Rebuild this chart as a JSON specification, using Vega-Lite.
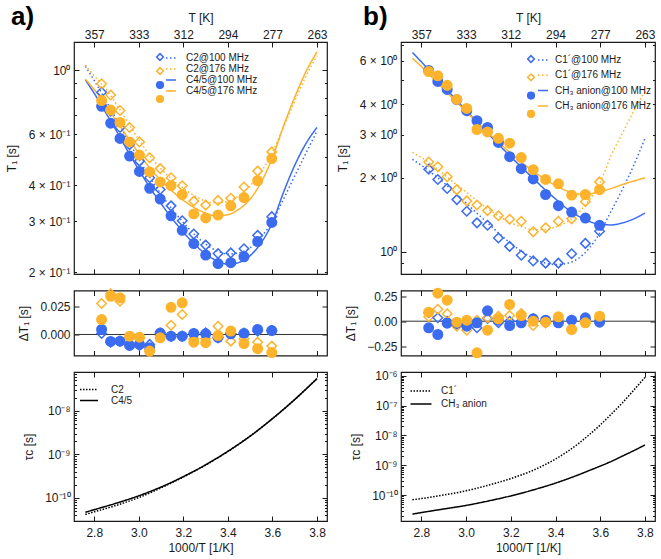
{
  "$schema": "https://vega.github.io/schema/vega-lite/v6.json",
  "padding": {"left": 4, "top": 3, "right": 2, "bottom": 1},
  "config": {
    "font": "Liberation Sans",
    "view": {"stroke": "#1a1a1a", "strokeWidth": 1.2},
    "axis": {"domain": false, "grid": false, "labelFont": "Liberation Sans", "titleFont": "Liberation Sans", "labelFontSize": 12, "titleFontSize": 12, "titleFontWeight": "normal", "labelColor": "#1a1a1a", "titleColor": "#1a1a1a", "tickColor": "#1a1a1a", "tickWidth": 1, "labelOverlap": false, "labelFlush": false},
    "legend": {"labelFont": "Liberation Sans", "labelFontSize": 10, "labelColor": "#1a1a1a", "padding": 0},
    "title": {"font": "Liberation Sans", "color": "#000"}
  },
  "datasets": {
    "ptsA": [
      {"x": 2.8329, "a": 0.838, "b": 0.896, "c": 0.749, "d": 0.784},
      {"x": 2.8736, "a": 0.720, "b": 0.820, "c": 0.655, "d": 0.727},
      {"x": 2.9155, "a": 0.633, "b": 0.724, "c": 0.580, "d": 0.659},
      {"x": 2.9586, "a": 0.552, "b": 0.633, "c": 0.504, "d": 0.564},
      {"x": 3.0030, "a": 0.484, "b": 0.564, "c": 0.446, "d": 0.508},
      {"x": 3.0488, "a": 0.424, "b": 0.497, "c": 0.390, "d": 0.444},
      {"x": 3.0960, "a": 0.386, "b": 0.456, "c": 0.358, "d": 0.410},
      {"x": 3.1447, "a": 0.339, "b": 0.424, "c": 0.313, "d": 0.398},
      {"x": 3.1949, "a": 0.301, "b": 0.398, "c": 0.279, "d": 0.371},
      {"x": 3.2468, "a": 0.271, "b": 0.352, "c": 0.251, "d": 0.318},
      {"x": 3.3003, "a": 0.248, "b": 0.341, "c": 0.229, "d": 0.308},
      {"x": 3.3557, "a": 0.232, "b": 0.354, "c": 0.214, "d": 0.315},
      {"x": 3.4130, "a": 0.233, "b": 0.360, "c": 0.2156, "d": 0.339},
      {"x": 3.4722, "a": 0.241, "b": 0.394, "c": 0.226, "d": 0.362},
      {"x": 3.5336, "a": 0.268, "b": 0.447, "c": 0.255, "d": 0.414},
      {"x": 3.5971, "a": 0.311, "b": 0.521, "c": 0.297, "d": 0.494}
    ],
    "ptsB": [
      {"x": 2.8329, "a": 2.17, "b": 2.32, "c": 5.49, "d": 5.43},
      {"x": 2.8736, "a": 1.97, "b": 2.22, "c": 4.95, "d": 5.22},
      {"x": 2.9155, "a": 1.81, "b": 2.02, "c": 4.59, "d": 4.77},
      {"x": 2.9586, "a": 1.63, "b": 1.79, "c": 4.17, "d": 4.18},
      {"x": 3.0030, "a": 1.46, "b": 1.61, "c": 3.76, "d": 3.84},
      {"x": 3.0488, "a": 1.31, "b": 1.55, "c": 3.42, "d": 3.15},
      {"x": 3.0960, "a": 1.28, "b": 1.47, "c": 3.21, "d": 3.08},
      {"x": 3.1447, "a": 1.136, "b": 1.40, "c": 2.79, "d": 2.90},
      {"x": 3.1949, "a": 1.05, "b": 1.355, "c": 2.44, "d": 2.77},
      {"x": 3.2468, "a": 0.966, "b": 1.33, "c": 2.18, "d": 2.42},
      {"x": 3.3003, "a": 0.916, "b": 1.204, "c": 1.98, "d": 2.16},
      {"x": 3.3557, "a": 0.897, "b": 1.25, "c": 1.71, "d": 1.97},
      {"x": 3.4130, "a": 0.897, "b": 1.33, "c": 1.54, "d": 1.89},
      {"x": 3.4722, "a": 0.980, "b": 1.36, "c": 1.45, "d": 1.70},
      {"x": 3.5336, "a": 1.08, "b": 1.60, "c": 1.37, "d": 1.71},
      {"x": 3.5971, "a": 1.21, "b": 1.925, "c": 1.28, "d": 1.79}
    ],
    "fitA": [
      {"x": 2.76, "C2@100 MHz": 1.03, "C2@176 MHz": 1.04, "C4/5@100 MHz": 0.925, "C4/5@176 MHz": 0.93},
      {"x": 2.80, "C2@100 MHz": 0.92, "C2@176 MHz": 0.955, "C4/5@100 MHz": 0.83, "C4/5@176 MHz": 0.855},
      {"x": 2.85, "C2@100 MHz": 0.79, "C2@176 MHz": 0.865, "C4/5@100 MHz": 0.715, "C4/5@176 MHz": 0.76},
      {"x": 2.90, "C2@100 MHz": 0.675, "C2@176 MHz": 0.76, "C4/5@100 MHz": 0.615, "C4/5@176 MHz": 0.665},
      {"x": 2.95, "C2@100 MHz": 0.575, "C2@176 MHz": 0.66, "C4/5@100 MHz": 0.525, "C4/5@176 MHz": 0.585},
      {"x": 3.00, "C2@100 MHz": 0.492, "C2@176 MHz": 0.575, "C4/5@100 MHz": 0.452, "C4/5@176 MHz": 0.515},
      {"x": 3.05, "C2@100 MHz": 0.425, "C2@176 MHz": 0.505, "C4/5@100 MHz": 0.392, "C4/5@176 MHz": 0.458},
      {"x": 3.10, "C2@100 MHz": 0.372, "C2@176 MHz": 0.455, "C4/5@100 MHz": 0.345, "C4/5@176 MHz": 0.415},
      {"x": 3.15, "C2@100 MHz": 0.330, "C2@176 MHz": 0.418, "C4/5@100 MHz": 0.306, "C4/5@176 MHz": 0.381},
      {"x": 3.20, "C2@100 MHz": 0.297, "C2@176 MHz": 0.390, "C4/5@100 MHz": 0.275, "C4/5@176 MHz": 0.354},
      {"x": 3.25, "C2@100 MHz": 0.270, "C2@176 MHz": 0.367, "C4/5@100 MHz": 0.250, "C4/5@176 MHz": 0.334},
      {"x": 3.30, "C2@100 MHz": 0.250, "C2@176 MHz": 0.352, "C4/5@100 MHz": 0.231, "C4/5@176 MHz": 0.320},
      {"x": 3.35, "C2@100 MHz": 0.237, "C2@176 MHz": 0.347, "C4/5@100 MHz": 0.219, "C4/5@176 MHz": 0.313},
      {"x": 3.40, "C2@100 MHz": 0.231, "C2@176 MHz": 0.352, "C4/5@100 MHz": 0.213, "C4/5@176 MHz": 0.316},
      {"x": 3.45, "C2@100 MHz": 0.233, "C2@176 MHz": 0.368, "C4/5@100 MHz": 0.216, "C4/5@176 MHz": 0.330},
      {"x": 3.50, "C2@100 MHz": 0.243, "C2@176 MHz": 0.398, "C4/5@100 MHz": 0.228, "C4/5@176 MHz": 0.358},
      {"x": 3.55, "C2@100 MHz": 0.265, "C2@176 MHz": 0.445, "C4/5@100 MHz": 0.253, "C4/5@176 MHz": 0.410},
      {"x": 3.60, "C2@100 MHz": 0.300, "C2@176 MHz": 0.520, "C4/5@100 MHz": 0.297, "C4/5@176 MHz": 0.498},
      {"x": 3.65, "C2@100 MHz": 0.358, "C2@176 MHz": 0.635, "C4/5@100 MHz": 0.378, "C4/5@176 MHz": 0.640},
      {"x": 3.70, "C2@100 MHz": 0.430, "C2@176 MHz": 0.780, "C4/5@100 MHz": 0.468, "C4/5@176 MHz": 0.805},
      {"x": 3.75, "C2@100 MHz": 0.515, "C2@176 MHz": 0.950, "C4/5@100 MHz": 0.556, "C4/5@176 MHz": 0.985},
      {"x": 3.80, "C2@100 MHz": 0.615, "C2@176 MHz": 1.120, "C4/5@100 MHz": 0.633, "C4/5@176 MHz": 1.155}
    ],
    "fitB": [
      {"x": 2.76, "C1´@100 MHz": 2.38, "C1´@176 MHz": 2.54, "CH₃ anion@100 MHz": 6.5, "CH₃ anion@176 MHz": 6.15},
      {"x": 2.80, "C1´@100 MHz": 2.25, "C1´@176 MHz": 2.42, "CH₃ anion@100 MHz": 5.95, "CH₃ anion@176 MHz": 5.7},
      {"x": 2.85, "C1´@100 MHz": 2.08, "C1´@176 MHz": 2.25, "CH₃ anion@100 MHz": 5.3, "CH₃ anion@176 MHz": 5.12},
      {"x": 2.90, "C1´@100 MHz": 1.91, "C1´@176 MHz": 2.07, "CH₃ anion@100 MHz": 4.72, "CH₃ anion@176 MHz": 4.6},
      {"x": 2.95, "C1´@100 MHz": 1.74, "C1´@176 MHz": 1.90, "CH₃ anion@100 MHz": 4.22, "CH₃ anion@176 MHz": 4.14},
      {"x": 3.00, "C1´@100 MHz": 1.58, "C1´@176 MHz": 1.75, "CH₃ anion@100 MHz": 3.77, "CH₃ anion@176 MHz": 3.73},
      {"x": 3.05, "C1´@100 MHz": 1.43, "C1´@176 MHz": 1.61, "CH₃ anion@100 MHz": 3.37, "CH₃ anion@176 MHz": 3.37},
      {"x": 3.10, "C1´@100 MHz": 1.30, "C1´@176 MHz": 1.49, "CH₃ anion@100 MHz": 3.02, "CH₃ anion@176 MHz": 3.05},
      {"x": 3.15, "C1´@100 MHz": 1.18, "C1´@176 MHz": 1.39, "CH₃ anion@100 MHz": 2.71, "CH₃ anion@176 MHz": 2.77},
      {"x": 3.20, "C1´@100 MHz": 1.08, "C1´@176 MHz": 1.31, "CH₃ anion@100 MHz": 2.44, "CH₃ anion@176 MHz": 2.52},
      {"x": 3.25, "C1´@100 MHz": 1.00, "C1´@176 MHz": 1.26, "CH₃ anion@100 MHz": 2.20, "CH₃ anion@176 MHz": 2.31},
      {"x": 3.30, "C1´@100 MHz": 0.94, "C1´@176 MHz": 1.23, "CH₃ anion@100 MHz": 1.99, "CH₃ anion@176 MHz": 2.13},
      {"x": 3.35, "C1´@100 MHz": 0.90, "C1´@176 MHz": 1.23, "CH₃ anion@100 MHz": 1.80, "CH₃ anion@176 MHz": 1.98},
      {"x": 3.40, "C1´@100 MHz": 0.885, "C1´@176 MHz": 1.26, "CH₃ anion@100 MHz": 1.64, "CH₃ anion@176 MHz": 1.86},
      {"x": 3.45, "C1´@100 MHz": 0.895, "C1´@176 MHz": 1.32, "CH₃ anion@100 MHz": 1.50, "CH₃ anion@176 MHz": 1.77},
      {"x": 3.50, "C1´@100 MHz": 0.935, "C1´@176 MHz": 1.43, "CH₃ anion@100 MHz": 1.40, "CH₃ anion@176 MHz": 1.72},
      {"x": 3.55, "C1´@100 MHz": 1.03, "C1´@176 MHz": 1.62, "CH₃ anion@100 MHz": 1.33, "CH₃ anion@176 MHz": 1.72},
      {"x": 3.60, "C1´@100 MHz": 1.20, "C1´@176 MHz": 1.92, "CH₃ anion@100 MHz": 1.29, "CH₃ anion@176 MHz": 1.76},
      {"x": 3.65, "C1´@100 MHz": 1.47, "C1´@176 MHz": 2.48, "CH₃ anion@100 MHz": 1.285, "CH₃ anion@176 MHz": 1.81},
      {"x": 3.70, "C1´@100 MHz": 1.80, "C1´@176 MHz": 3.05, "CH₃ anion@100 MHz": 1.31, "CH₃ anion@176 MHz": 1.88},
      {"x": 3.75, "C1´@100 MHz": 2.25, "C1´@176 MHz": 3.75, "CH₃ anion@100 MHz": 1.36, "CH₃ anion@176 MHz": 1.94},
      {"x": 3.80, "C1´@100 MHz": 2.90, "C1´@176 MHz": 4.50, "CH₃ anion@100 MHz": 1.437, "CH₃ anion@176 MHz": 2.00}
    ],
    "resA": [
      {"x": 2.8329, "a": 0.0009, "b": 0.0274, "c": 0.0044, "d": 0.0132},
      {"x": 2.8736, "a": -0.0068, "b": 0.0360, "c": -0.0062, "d": 0.0338},
      {"x": 2.9155, "a": -0.0059, "b": 0.0294, "c": -0.0059, "d": 0.0324},
      {"x": 2.9586, "a": -0.0092, "b": -0.0030, "c": -0.0097, "d": -0.0015},
      {"x": 3.0030, "a": -0.0097, "b": -0.0035, "c": -0.0088, "d": -0.0024},
      {"x": 3.0488, "a": -0.0088, "b": -0.0150, "c": -0.0118, "d": -0.0147},
      {"x": 3.0960, "a": 0.0012, "b": -0.0010, "c": 0.0012, "d": -0.0030},
      {"x": 3.1447, "a": -0.0015, "b": 0.0082, "c": -0.0015, "d": 0.0240},
      {"x": 3.1949, "a": -0.0015, "b": 0.0177, "c": -0.0015, "d": 0.0280},
      {"x": 3.2468, "a": 0.0009, "b": -0.0040, "c": 0.0009, "d": -0.0068},
      {"x": 3.3003, "a": 0.0015, "b": -0.0035, "c": 0.0006, "d": -0.0073},
      {"x": 3.3557, "a": -0.0030, "b": 0.0073, "c": -0.0025, "d": -0.0010},
      {"x": 3.4130, "a": 0.0009, "b": -0.0059, "c": 0.0006, "d": 0.0030},
      {"x": 3.4722, "a": 0.0012, "b": -0.0038, "c": 0.0009, "d": -0.0080},
      {"x": 3.5336, "a": 0.0030, "b": -0.0068, "c": 0.0044, "d": -0.0126},
      {"x": 3.5971, "a": 0.0035, "b": -0.0103, "c": 0.0035, "d": -0.0160}
    ],
    "resB": [
      {"x": 2.8329, "a": 0.084, "b": 0.044, "c": -0.066, "d": 0.090},
      {"x": 2.8736, "a": 0.034, "b": 0.120, "c": -0.133, "d": 0.280},
      {"x": 2.9155, "a": 0.000, "b": 0.075, "c": -0.020, "d": 0.210},
      {"x": 2.9586, "a": -0.030, "b": -0.050, "c": -0.020, "d": -0.010},
      {"x": 3.0030, "a": -0.040, "b": -0.090, "c": -0.050, "d": 0.010},
      {"x": 3.0488, "a": -0.066, "b": 0.010, "c": -0.016, "d": -0.316},
      {"x": 3.0960, "a": 0.028, "b": 0.034, "c": 0.104, "d": -0.090},
      {"x": 3.1447, "a": -0.016, "b": 0.050, "c": 0.010, "d": 0.024},
      {"x": 3.1949, "a": 0.000, "b": 0.057, "c": -0.043, "d": 0.167},
      {"x": 3.2468, "a": 0.000, "b": 0.077, "c": -0.016, "d": 0.057},
      {"x": 3.3003, "a": 0.024, "b": -0.043, "c": 0.024, "d": 0.000},
      {"x": 3.3557, "a": -0.016, "b": -0.016, "c": 0.010, "d": -0.010},
      {"x": 3.4130, "a": -0.010, "b": 0.017, "c": -0.016, "d": 0.044},
      {"x": 3.4722, "a": 0.010, "b": -0.083, "c": 0.010, "d": -0.083},
      {"x": 3.5336, "a": 0.020, "b": 0.000, "c": 0.034, "d": -0.016},
      {"x": 3.5971, "a": 0.000, "b": 0.024, "c": -0.010, "d": 0.050}
    ],
    "tauA": [
      {"x": 2.76, "C2": 4.17e-11, "C4/5": 4.68e-11},
      {"x": 2.80, "C2": 4.79e-11, "C4/5": 5.37e-11},
      {"x": 2.90, "C2": 6.76e-11, "C4/5": 7.59e-11},
      {"x": 3.00, "C2": 1.02e-10, "C4/5": 1.12e-10},
      {"x": 3.10, "C2": 1.70e-10, "C4/5": 1.78e-10},
      {"x": 3.20, "C2": 3.02e-10, "C4/5": 3.09e-10},
      {"x": 3.30, "C2": 5.70e-10, "C4/5": 5.75e-10},
      {"x": 3.40, "C2": 1.17e-9, "C4/5": 1.175e-9},
      {"x": 3.50, "C2": 2.63e-9, "C4/5": 2.63e-9},
      {"x": 3.60, "C2": 6.61e-9, "C4/5": 6.61e-9},
      {"x": 3.70, "C2": 1.82e-8, "C4/5": 1.82e-8},
      {"x": 3.80, "C2": 5.50e-8, "C4/5": 5.50e-8}
    ],
    "tauB": [
      {"x": 2.76, "C1´": 6.92e-11, "CH₃ anion": 2.29e-11},
      {"x": 2.80, "C1´": 7.59e-11, "CH₃ anion": 2.57e-11},
      {"x": 2.90, "C1´": 1.0e-10, "CH₃ anion": 3.39e-11},
      {"x": 3.00, "C1´": 1.38e-10, "CH₃ anion": 4.47e-11},
      {"x": 3.10, "C1´": 2.14e-10, "CH₃ anion": 6.31e-11},
      {"x": 3.20, "C1´": 3.55e-10, "CH₃ anion": 9.33e-11},
      {"x": 3.30, "C1´": 6.76e-10, "CH₃ anion": 1.48e-10},
      {"x": 3.40, "C1´": 1.62e-9, "CH₃ anion": 2.51e-10},
      {"x": 3.50, "C1´": 5.13e-9, "CH₃ anion": 4.68e-10},
      {"x": 3.55, "C1´": 1.047e-8, "CH₃ anion": 6.61e-10},
      {"x": 3.60, "C1´": 2.24e-8, "CH₃ anion": 9.33e-10},
      {"x": 3.65, "C1´": 5.25e-8, "CH₃ anion": 1.35e-9},
      {"x": 3.70, "C1´": 1.26e-7, "CH₃ anion": 2.04e-9},
      {"x": 3.75, "C1´": 3.31e-7, "CH₃ anion": 3.09e-9},
      {"x": 3.80, "C1´": 8.91e-7, "CH₃ anion": 4.79e-9}
    ]
  },
  "resolve": {"scale": {"color": "independent", "stroke": "independent", "fill": "independent", "shape": "independent", "strokeDash": "independent"}, "legend": {"color": "independent", "stroke": "independent", "fill": "independent", "shape": "independent", "strokeDash": "independent"}},
  "spacing": 6,
  "hconcat": [
    {
      "bounds": "flush",
      "spacing": 16.5,
      "resolve": {"scale": {"color": "independent", "stroke": "independent", "fill": "independent", "shape": "independent", "strokeDash": "independent"}, "legend": {"color": "independent", "stroke": "independent", "fill": "independent", "shape": "independent", "strokeDash": "independent"}},
      "vconcat": [
        {
          "width": 253, "height": 232,
          "title": {"text": "a)", "anchor": "start", "frame": "group", "fontSize": 26, "fontWeight": "bold", "dx": -63, "dy": 19, "offset": 0},
          "layer": [
            {
              "data": {"name": "fitA"},
              "transform": [{"fold": ["C2@100 MHz", "C2@176 MHz", "C4/5@100 MHz", "C4/5@176 MHz"], "as": ["s", "v"]}],
              "mark": {"type": "line", "strokeWidth": 1.5, "interpolate": "monotone"},
              "encoding": {
                "x": {"field": "x", "type": "quantitative", "scale": {"domain": [2.709, 3.845], "nice": false, "zero": false}, "axis": {"orient": "bottom", "values": [2.8, 3, 3.2, 3.4, 3.6, 3.8], "labels": false, "tickSize": -5, "title": null}},
                "y": {"field": "v", "type": "quantitative", "scale": {"type": "log", "domain": [0.197, 1.25], "nice": false}, "axis": {"orient": "left", "values": [0.2, 0.3, 0.4, 0.5, 0.6, 0.7, 0.8, 0.9, 1], "labelExpr": "datum.value==1?'10⁰':datum.value==0.2?'2 × 10⁻¹':datum.value==0.3?'3 × 10⁻¹':datum.value==0.4?'4 × 10⁻¹':datum.value==0.6?'6 × 10⁻¹':''", "tickSize": {"condition": {"test": "datum.value==1", "value": -5}, "value": -2.5}, "labelPadding": {"condition": {"test": "datum.value==1", "value": 9}, "value": 6.5}, "title": "T₁ [s]", "titlePadding": 10}},
                "color": {"field": "s", "type": "nominal", "scale": {"domain": ["C2@100 MHz", "C2@176 MHz", "C4/5@100 MHz", "C4/5@176 MHz"], "range": ["#3A6BF0", "#FDB32C", "#3A6BF0", "#FDB32C"]}, "legend": {"orient": "none", "legendX": 91, "legendY": 10, "title": null, "symbolType": "stroke", "symbolSize": 100, "symbolStrokeWidth": 1.5, "labelFontSize": 10, "labelOffset": 9, "rowPadding": 0, "padding": 0}},
                "strokeDash": {"field": "s", "type": "nominal", "scale": {"domain": ["C2@100 MHz", "C2@176 MHz", "C4/5@100 MHz", "C4/5@176 MHz"], "range": [[1.5, 2.5], [1.5, 2.5], [1, 0], [1, 0]]}, "legend": {"orient": "none", "legendX": 91, "legendY": 10, "title": null, "symbolType": "stroke", "symbolSize": 100, "symbolStrokeWidth": 1.5, "labelFontSize": 10, "labelOffset": 9, "rowPadding": 0, "padding": 0}}
              }
            },
            {
              "data": {"name": "ptsA"},
              "transform": [{"fold": ["a", "b", "c", "d"], "as": ["s", "v"]}],
              "mark": {"type": "point", "size": 90, "strokeWidth": 1.5, "opacity": 1},
              "encoding": {
                "x": {"field": "x", "type": "quantitative", "scale": {"domain": [2.709, 3.845], "nice": false, "zero": false}, "axis": {"orient": "top", "values": [2.8, 3, 3.2, 3.4, 3.6, 3.8], "labelExpr": "floor(1000/datum.value)", "tickSize": -5, "labelPadding": 6, "title": "T [K]", "titlePadding": 4}},
                "y": {"field": "v", "type": "quantitative", "scale": {"type": "log", "domain": [0.197, 1.25], "nice": false}, "axis": {"orient": "right", "values": [0.2, 0.3, 0.4, 0.5, 0.6, 0.7, 0.8, 0.9, 1], "labels": false, "tickSize": {"condition": {"test": "datum.value==1", "value": -5}, "value": -2.5}, "title": null}},
                "shape": {"field": "s", "type": "nominal", "scale": {"domain": ["a", "b", "c", "d"], "range": ["diamond", "diamond", "circle", "circle"]}, "legend": {"orient": "none", "legendX": 81, "legendY": 10, "title": null, "symbolSize": 45, "symbolStrokeWidth": 1.5, "labelExpr": "' '", "labelFontSize": 10, "rowPadding": 0, "padding": 0}},
                "stroke": {"field": "s", "type": "nominal", "scale": {"domain": ["a", "b", "c", "d"], "range": ["#3A6BF0", "#FDB32C", "#3A6BF0", "#FDB32C"]}, "legend": {"orient": "none", "legendX": 81, "legendY": 10, "title": null, "symbolSize": 45, "symbolStrokeWidth": 1.5, "labelExpr": "' '", "labelFontSize": 10, "rowPadding": 0, "padding": 0}},
                "fill": {"field": "s", "type": "nominal", "scale": {"domain": ["a", "b", "c", "d"], "range": ["transparent", "transparent", "#3A6BF0", "#FDB32C"]}, "legend": {"orient": "none", "legendX": 81, "legendY": 10, "title": null, "symbolSize": 45, "symbolStrokeWidth": 1.5, "labelExpr": "' '", "labelFontSize": 10, "rowPadding": 0, "padding": 0}}
              }
            }
          ],
          "resolve": {"axis": {"x": "independent", "y": "independent"}}
        },
        {
          "width": 253, "height": 65,
          "layer": [
            {
              "data": {"values": [{"zero": 0}]},
              "mark": {"type": "rule", "color": "#333333", "strokeWidth": 1},
              "encoding": {"y": {"field": "zero", "type": "quantitative", "scale": {"domain": [-0.0186, 0.0389], "nice": false, "zero": false}, "axis": null}}
            },
            {
              "data": {"name": "resA"},
              "transform": [{"fold": ["a", "b"], "as": ["s", "v"]}],
              "mark": {"type": "point", "size": 90, "strokeWidth": 1.5, "opacity": 1},
              "encoding": {
                "x": {"field": "x", "type": "quantitative", "scale": {"domain": [2.709, 3.845], "nice": false, "zero": false}, "axis": {"orient": "bottom", "values": [2.8, 3, 3.2, 3.4, 3.6, 3.8], "labels": false, "tickSize": -5, "title": null}},
                "y": {"field": "v", "type": "quantitative", "scale": {"domain": [-0.0186, 0.0389], "nice": false, "zero": false}, "axis": {"orient": "left", "values": [0, 0.025], "format": ".3f", "tickSize": -5, "labelPadding": 9, "title": "ΔT₁ [s]", "titlePadding": 9}},
                "shape": {"field": "s", "type": "nominal", "scale": {"domain": ["a", "b", "c", "d"], "range": ["diamond", "diamond", "circle", "circle"]}, "legend": null},
                "stroke": {"field": "s", "type": "nominal", "scale": {"domain": ["a", "b", "c", "d"], "range": ["#3A6BF0", "#FDB32C", "#3A6BF0", "#FDB32C"]}, "legend": null},
                "fill": {"field": "s", "type": "nominal", "scale": {"domain": ["a", "b", "c", "d"], "range": ["transparent", "transparent", "#3A6BF0", "#FDB32C"]}, "legend": null}
              }
            },
            {
              "data": {"name": "resA"},
              "transform": [{"fold": ["c", "d"], "as": ["s", "v"]}],
              "mark": {"type": "point", "size": 90, "strokeWidth": 1.5, "opacity": 1},
              "encoding": {
                "x": {"field": "x", "type": "quantitative", "scale": {"domain": [2.709, 3.845], "nice": false, "zero": false}, "axis": {"orient": "top", "values": [2.8, 3, 3.2, 3.4, 3.6, 3.8], "labels": false, "tickSize": -5, "title": null}},
                "y": {"field": "v", "type": "quantitative", "scale": {"domain": [-0.0186, 0.0389], "nice": false, "zero": false}, "axis": {"orient": "right", "values": [0, 0.025], "labels": false, "tickSize": -5, "title": null}},
                "shape": {"field": "s", "type": "nominal", "scale": {"domain": ["a", "b", "c", "d"], "range": ["diamond", "diamond", "circle", "circle"]}, "legend": null},
                "stroke": {"field": "s", "type": "nominal", "scale": {"domain": ["a", "b", "c", "d"], "range": ["#3A6BF0", "#FDB32C", "#3A6BF0", "#FDB32C"]}, "legend": null},
                "fill": {"field": "s", "type": "nominal", "scale": {"domain": ["a", "b", "c", "d"], "range": ["transparent", "transparent", "#3A6BF0", "#FDB32C"]}, "legend": null}
              }
            }
          ],
          "resolve": {"axis": {"x": "independent", "y": "independent"}}
        },
        {
          "width": 253, "height": 149,
          "layer": [
            {
              "data": {"name": "tauA"},
              "transform": [{"fold": ["C2"], "as": ["s", "v"]}],
              "mark": {"type": "line", "strokeWidth": 1.5, "color": "black", "interpolate": "monotone"},
              "encoding": {
                "x": {"field": "x", "type": "quantitative", "scale": {"domain": [2.709, 3.845], "nice": false, "zero": false}, "axis": {"orient": "bottom", "values": [2.8, 3, 3.2, 3.4, 3.6, 3.8], "format": ".1f", "tickSize": -5, "labelPadding": 11, "title": "1000/T [1/K]", "titlePadding": 4}},
                "y": {"field": "v", "type": "quantitative", "scale": {"type": "log", "domain": [2.95e-11, 7.8e-8], "nice": false}, "axis": {"orient": "left", "values": [3e-11, 4e-11, 5e-11, 6e-11, 7e-11, 8e-11, 9e-11, 1e-10, 2e-10, 3e-10, 4e-10, 5e-10, 6e-10, 7e-10, 8e-10, 9e-10, 1e-9, 2e-9, 3e-9, 4e-9, 5e-9, 6e-9, 7e-9, 8e-9, 9e-9, 1e-8, 2e-8, 3e-8, 4e-8, 5e-8, 6e-8, 7e-8], "labelExpr": "datum.value==1e-10?'10⁻¹⁰':datum.value==1e-9?'10⁻⁹':datum.value==1e-8?'10⁻⁸':''", "tickSize": {"condition": {"test": "abs(log(datum.value)/LN10-round(log(datum.value)/LN10))<0.001", "value": -5}, "value": -2.5}, "labelPadding": 9, "title": "τc [s]", "titlePadding": 9}},
                "strokeDash": {"field": "s", "type": "nominal", "scale": {"domain": ["C2", "C4/5"], "range": [[1.5, 1.5], [1, 0]]}, "legend": {"orient": "none", "legendX": 9.5, "legendY": 12, "title": null, "symbolType": "M-2,0H2", "symbolSize": 81, "symbolStrokeWidth": 1.5, "symbolStrokeColor": "black", "symbolFillColor": "transparent", "labelFontSize": 10, "labelOffset": 16.5, "rowPadding": 0, "padding": 0}}
              }
            },
            {
              "data": {"name": "tauA"},
              "transform": [{"fold": ["C4/5"], "as": ["s", "v"]}],
              "mark": {"type": "line", "strokeWidth": 1.5, "color": "black", "interpolate": "monotone"},
              "encoding": {
                "x": {"field": "x", "type": "quantitative", "scale": {"domain": [2.709, 3.845], "nice": false, "zero": false}, "axis": {"orient": "top", "values": [2.8, 3, 3.2, 3.4, 3.6, 3.8], "labels": false, "tickSize": -5, "title": null}},
                "y": {"field": "v", "type": "quantitative", "scale": {"type": "log", "domain": [2.95e-11, 7.8e-8], "nice": false}, "axis": {"orient": "right", "values": [3e-11, 4e-11, 5e-11, 6e-11, 7e-11, 8e-11, 9e-11, 1e-10, 2e-10, 3e-10, 4e-10, 5e-10, 6e-10, 7e-10, 8e-10, 9e-10, 1e-9, 2e-9, 3e-9, 4e-9, 5e-9, 6e-9, 7e-9, 8e-9, 9e-9, 1e-8, 2e-8, 3e-8, 4e-8, 5e-8, 6e-8, 7e-8], "labels": false, "tickSize": {"condition": {"test": "abs(log(datum.value)/LN10-round(log(datum.value)/LN10))<0.001", "value": -5}, "value": -2.5}, "title": null}},
                "strokeDash": {"field": "s", "type": "nominal", "scale": {"domain": ["C2", "C4/5"], "range": [[1.5, 1.5], [1, 0]]}, "legend": {"orient": "none", "legendX": 9.5, "legendY": 12, "title": null, "symbolType": "M-2,0H2", "symbolSize": 81, "symbolStrokeWidth": 1.5, "symbolStrokeColor": "black", "symbolFillColor": "transparent", "labelFontSize": 10, "labelOffset": 16.5, "rowPadding": 0, "padding": 0}}
              }
            }
          ],
          "resolve": {"axis": {"x": "independent", "y": "independent"}}
        }
      ]
    },
    {
      "bounds": "flush",
      "spacing": 16.5,
      "resolve": {"scale": {"color": "independent", "stroke": "independent", "fill": "independent", "shape": "independent", "strokeDash": "independent"}, "legend": {"color": "independent", "stroke": "independent", "fill": "independent", "shape": "independent", "strokeDash": "independent"}},
      "vconcat": [
        {
          "width": 254, "height": 232,
          "title": {"text": "b)", "anchor": "start", "frame": "group", "fontSize": 26, "fontWeight": "bold", "dx": -38, "dy": 19, "offset": 0},
          "layer": [
            {
              "data": {"name": "fitB"},
              "transform": [{"fold": ["C1´@100 MHz", "C1´@176 MHz", "CH₃ anion@100 MHz", "CH₃ anion@176 MHz"], "as": ["s", "v"]}],
              "mark": {"type": "line", "strokeWidth": 1.5, "interpolate": "monotone"},
              "encoding": {
                "x": {"field": "x", "type": "quantitative", "scale": {"domain": [2.709, 3.845], "nice": false, "zero": false}, "axis": {"orient": "bottom", "values": [2.8, 3, 3.2, 3.4, 3.6, 3.8], "labels": false, "tickSize": -5, "title": null}},
                "y": {"field": "v", "type": "quantitative", "scale": {"type": "log", "domain": [0.81, 7.17], "nice": false}, "axis": {"orient": "left", "values": [0.9, 1, 2, 3, 4, 5, 6, 7], "labelExpr": "datum.value==1?'10⁰':datum.value==2?'2 × 10⁰':datum.value==3?'3 × 10⁰':datum.value==4?'4 × 10⁰':datum.value==6?'6 × 10⁰':''", "tickSize": {"condition": {"test": "datum.value==1", "value": -5}, "value": -2.5}, "labelPadding": {"condition": {"test": "datum.value==1", "value": 9}, "value": 6.5}, "title": "T₁ [s]", "titlePadding": 10}},
                "color": {"field": "s", "type": "nominal", "scale": {"domain": ["C1´@100 MHz", "C1´@176 MHz", "CH₃ anion@100 MHz", "CH₃ anion@176 MHz"], "range": ["#3A6BF0", "#FDB32C", "#3A6BF0", "#FDB32C"]}, "legend": {"orient": "none", "legendX": 136, "legendY": 12, "title": null, "symbolType": "stroke", "symbolSize": 100, "symbolStrokeWidth": 1.5, "labelFontSize": 10, "labelOffset": 6, "rowPadding": 4.3, "padding": 0}},
                "strokeDash": {"field": "s", "type": "nominal", "scale": {"domain": ["C1´@100 MHz", "C1´@176 MHz", "CH₃ anion@100 MHz", "CH₃ anion@176 MHz"], "range": [[1.5, 2.5], [1.5, 2.5], [1, 0], [1, 0]]}, "legend": {"orient": "none", "legendX": 136, "legendY": 12, "title": null, "symbolType": "stroke", "symbolSize": 100, "symbolStrokeWidth": 1.5, "labelFontSize": 10, "labelOffset": 6, "rowPadding": 4.3, "padding": 0}}
              }
            },
            {
              "data": {"name": "ptsB"},
              "transform": [{"fold": ["a", "b", "c", "d"], "as": ["s", "v"]}],
              "mark": {"type": "point", "size": 90, "strokeWidth": 1.5, "opacity": 1},
              "encoding": {
                "x": {"field": "x", "type": "quantitative", "scale": {"domain": [2.709, 3.845], "nice": false, "zero": false}, "axis": {"orient": "top", "values": [2.8, 3, 3.2, 3.4, 3.6, 3.8], "labelExpr": "floor(1000/datum.value)", "tickSize": -5, "labelPadding": 6, "title": "T [K]", "titlePadding": 4}},
                "y": {"field": "v", "type": "quantitative", "scale": {"type": "log", "domain": [0.81, 7.17], "nice": false}, "axis": {"orient": "right", "values": [0.9, 1, 2, 3, 4, 5, 6, 7], "labels": false, "tickSize": {"condition": {"test": "datum.value==1", "value": -5}, "value": -2.5}, "title": null}},
                "shape": {"field": "s", "type": "nominal", "scale": {"domain": ["a", "b", "c", "d"], "range": ["diamond", "diamond", "circle", "circle"]}, "legend": {"orient": "none", "legendX": 125, "legendY": 12, "title": null, "symbolSize": 45, "symbolStrokeWidth": 1.5, "labelExpr": "' '", "labelFontSize": 10, "rowPadding": 4.3, "padding": 0}},
                "stroke": {"field": "s", "type": "nominal", "scale": {"domain": ["a", "b", "c", "d"], "range": ["#3A6BF0", "#FDB32C", "#3A6BF0", "#FDB32C"]}, "legend": {"orient": "none", "legendX": 125, "legendY": 12, "title": null, "symbolSize": 45, "symbolStrokeWidth": 1.5, "labelExpr": "' '", "labelFontSize": 10, "rowPadding": 4.3, "padding": 0}},
                "fill": {"field": "s", "type": "nominal", "scale": {"domain": ["a", "b", "c", "d"], "range": ["transparent", "transparent", "#3A6BF0", "#FDB32C"]}, "legend": {"orient": "none", "legendX": 125, "legendY": 12, "title": null, "symbolSize": 45, "symbolStrokeWidth": 1.5, "labelExpr": "' '", "labelFontSize": 10, "rowPadding": 4.3, "padding": 0}}
              }
            }
          ],
          "resolve": {"axis": {"x": "independent", "y": "independent"}}
        },
        {
          "width": 254, "height": 65,
          "layer": [
            {
              "data": {"values": [{"zero": 0}]},
              "mark": {"type": "rule", "color": "#333333", "strokeWidth": 1},
              "encoding": {"y": {"field": "zero", "type": "quantitative", "scale": {"domain": [-0.343, 0.307], "nice": false, "zero": false}, "axis": null}}
            },
            {
              "data": {"name": "resB"},
              "transform": [{"fold": ["a", "b"], "as": ["s", "v"]}],
              "mark": {"type": "point", "size": 90, "strokeWidth": 1.5, "opacity": 1},
              "encoding": {
                "x": {"field": "x", "type": "quantitative", "scale": {"domain": [2.709, 3.845], "nice": false, "zero": false}, "axis": {"orient": "bottom", "values": [2.8, 3, 3.2, 3.4, 3.6, 3.8], "labels": false, "tickSize": -5, "title": null}},
                "y": {"field": "v", "type": "quantitative", "scale": {"domain": [-0.343, 0.307], "nice": false, "zero": false}, "axis": {"orient": "left", "values": [-0.25, 0, 0.25], "format": ".2f", "tickSize": -5, "labelPadding": 9, "title": "ΔT₁ [s]", "titlePadding": 9}},
                "shape": {"field": "s", "type": "nominal", "scale": {"domain": ["a", "b", "c", "d"], "range": ["diamond", "diamond", "circle", "circle"]}, "legend": null},
                "stroke": {"field": "s", "type": "nominal", "scale": {"domain": ["a", "b", "c", "d"], "range": ["#3A6BF0", "#FDB32C", "#3A6BF0", "#FDB32C"]}, "legend": null},
                "fill": {"field": "s", "type": "nominal", "scale": {"domain": ["a", "b", "c", "d"], "range": ["transparent", "transparent", "#3A6BF0", "#FDB32C"]}, "legend": null}
              }
            },
            {
              "data": {"name": "resB"},
              "transform": [{"fold": ["c", "d"], "as": ["s", "v"]}],
              "mark": {"type": "point", "size": 90, "strokeWidth": 1.5, "opacity": 1},
              "encoding": {
                "x": {"field": "x", "type": "quantitative", "scale": {"domain": [2.709, 3.845], "nice": false, "zero": false}, "axis": {"orient": "top", "values": [2.8, 3, 3.2, 3.4, 3.6, 3.8], "labels": false, "tickSize": -5, "title": null}},
                "y": {"field": "v", "type": "quantitative", "scale": {"domain": [-0.343, 0.307], "nice": false, "zero": false}, "axis": {"orient": "right", "values": [-0.25, 0, 0.25], "labels": false, "tickSize": -5, "title": null}},
                "shape": {"field": "s", "type": "nominal", "scale": {"domain": ["a", "b", "c", "d"], "range": ["diamond", "diamond", "circle", "circle"]}, "legend": null},
                "stroke": {"field": "s", "type": "nominal", "scale": {"domain": ["a", "b", "c", "d"], "range": ["#3A6BF0", "#FDB32C", "#3A6BF0", "#FDB32C"]}, "legend": null},
                "fill": {"field": "s", "type": "nominal", "scale": {"domain": ["a", "b", "c", "d"], "range": ["transparent", "transparent", "#3A6BF0", "#FDB32C"]}, "legend": null}
              }
            }
          ],
          "resolve": {"axis": {"x": "independent", "y": "independent"}}
        },
        {
          "width": 254, "height": 149,
          "layer": [
            {
              "data": {"name": "tauB"},
              "transform": [{"fold": ["C1´"], "as": ["s", "v"]}],
              "mark": {"type": "line", "strokeWidth": 1.5, "color": "black", "interpolate": "monotone"},
              "encoding": {
                "x": {"field": "x", "type": "quantitative", "scale": {"domain": [2.709, 3.845], "nice": false, "zero": false}, "axis": {"orient": "bottom", "values": [2.8, 3, 3.2, 3.4, 3.6, 3.8], "format": ".1f", "tickSize": -5, "labelPadding": 11, "title": "1000/T [1/K]", "titlePadding": 4}},
                "y": {"field": "v", "type": "quantitative", "scale": {"type": "log", "domain": [1.34e-11, 1.35e-6], "nice": false}, "axis": {"orient": "left", "values": [2e-11, 3e-11, 4e-11, 5e-11, 6e-11, 7e-11, 8e-11, 9e-11, 1e-10, 2e-10, 3e-10, 4e-10, 5e-10, 6e-10, 7e-10, 8e-10, 9e-10, 1e-9, 2e-9, 3e-9, 4e-9, 5e-9, 6e-9, 7e-9, 8e-9, 9e-9, 1e-8, 2e-8, 3e-8, 4e-8, 5e-8, 6e-8, 7e-8, 8e-8, 9e-8, 1e-7, 2e-7, 3e-7, 4e-7, 5e-7, 6e-7, 7e-7, 8e-7, 9e-7, 1e-6], "labelExpr": "datum.value==1e-10?'10⁻¹⁰':datum.value==1e-9?'10⁻⁹':datum.value==1e-8?'10⁻⁸':datum.value==1e-7?'10⁻⁷':datum.value==1e-6?'10⁻⁶':''", "tickSize": {"condition": {"test": "abs(log(datum.value)/LN10-round(log(datum.value)/LN10))<0.001", "value": -5}, "value": -2.5}, "labelPadding": 9, "title": "τc [s]", "titlePadding": 9}},
                "strokeDash": {"field": "s", "type": "nominal", "scale": {"domain": ["C1´", "CH₃ anion"], "range": [[1.5, 1.5], [1, 0]]}, "legend": {"orient": "none", "legendX": 14, "legendY": 13, "title": null, "symbolType": "M-2,0H2", "symbolSize": 110, "symbolStrokeWidth": 1.5, "symbolStrokeColor": "black", "symbolFillColor": "transparent", "labelFontSize": 10, "labelOffset": 14, "rowPadding": 2, "padding": 0}}
              }
            },
            {
              "data": {"name": "tauB"},
              "transform": [{"fold": ["CH₃ anion"], "as": ["s", "v"]}],
              "mark": {"type": "line", "strokeWidth": 1.5, "color": "black", "interpolate": "monotone"},
              "encoding": {
                "x": {"field": "x", "type": "quantitative", "scale": {"domain": [2.709, 3.845], "nice": false, "zero": false}, "axis": {"orient": "top", "values": [2.8, 3, 3.2, 3.4, 3.6, 3.8], "labels": false, "tickSize": -5, "title": null}},
                "y": {"field": "v", "type": "quantitative", "scale": {"type": "log", "domain": [1.34e-11, 1.35e-6], "nice": false}, "axis": {"orient": "right", "values": [2e-11, 3e-11, 4e-11, 5e-11, 6e-11, 7e-11, 8e-11, 9e-11, 1e-10, 2e-10, 3e-10, 4e-10, 5e-10, 6e-10, 7e-10, 8e-10, 9e-10, 1e-9, 2e-9, 3e-9, 4e-9, 5e-9, 6e-9, 7e-9, 8e-9, 9e-9, 1e-8, 2e-8, 3e-8, 4e-8, 5e-8, 6e-8, 7e-8, 8e-8, 9e-8, 1e-7, 2e-7, 3e-7, 4e-7, 5e-7, 6e-7, 7e-7, 8e-7, 9e-7, 1e-6], "labels": false, "tickSize": {"condition": {"test": "abs(log(datum.value)/LN10-round(log(datum.value)/LN10))<0.001", "value": -5}, "value": -2.5}, "title": null}},
                "strokeDash": {"field": "s", "type": "nominal", "scale": {"domain": ["C1´", "CH₃ anion"], "range": [[1.5, 1.5], [1, 0]]}, "legend": {"orient": "none", "legendX": 14, "legendY": 13, "title": null, "symbolType": "M-2,0H2", "symbolSize": 110, "symbolStrokeWidth": 1.5, "symbolStrokeColor": "black", "symbolFillColor": "transparent", "labelFontSize": 10, "labelOffset": 14, "rowPadding": 2, "padding": 0}}
              }
            }
          ],
          "resolve": {"axis": {"x": "independent", "y": "independent"}}
        }
      ]
    }
  ]
}
